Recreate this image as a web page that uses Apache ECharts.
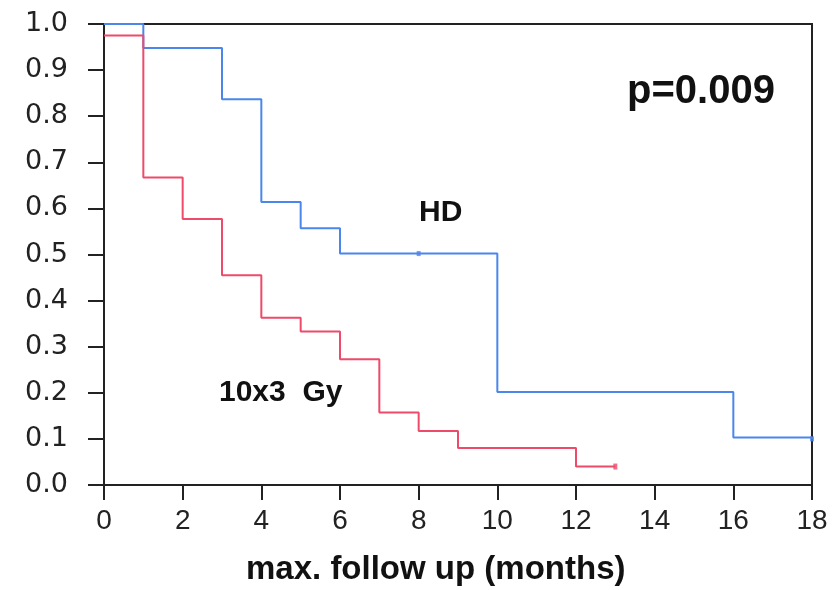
<!DOCTYPE html>
<html>
<head>
<meta charset="utf-8">
<script src="https://cdn.jsdelivr.net/npm/echarts@6/dist/echarts.min.js"></script>
<style>html,body{margin:0;padding:0;background:#fff}#c{width:834px;height:590px}</style>
</head>
<body>
<div id="c"></div>
<script>
// Kaplan-Meier step data (time in months, survival proportion)
var hdTimes = [0, 1, 3, 4, 5, 6, 10, 16, 18];
var hdValues = [1.0, 0.948, 0.837, 0.614, 0.557, 0.502, 0.202, 0.103, 0.1];
var hdCensorTimes = [8, 18];
var hdCensorValues = [0.502, 0.1];

var gyTimes = [0, 1, 2, 3, 4, 5, 6, 7, 8, 9, 12, 13];
var gyValues = [0.975, 0.667, 0.577, 0.455, 0.363, 0.333, 0.273, 0.157, 0.117, 0.08, 0.04, 0.04];
var gyCensorTimes = [13];
var gyCensorValues = [0.04];

var xTicks = [0, 2, 4, 6, 8, 10, 12, 14, 16, 18];
var yTicks = [0.0, 0.1, 0.2, 0.3, 0.4, 0.5, 0.6, 0.7, 0.8, 0.9, 1.0];

var blue = '#4a86ec';
var red = '#ee4a6a';

function zip(a, b) { return a.map(function (v, i) { return [v, b[i]]; }); }

var chart = echarts.init(document.getElementById('c'));
chart.setOption({
  animation: false,
  grid: { left: 104, right: 22, top: 24, bottom: 105, show: true, borderColor: '#222', borderWidth: 2, backgroundColor: 'transparent' },
  xAxis: {
    type: 'value', min: xTicks[0], max: xTicks[xTicks.length - 1], interval: 2,
    splitLine: { show: false },
    axisLine: { lineStyle: { color: '#222', width: 2 } },
    axisTick: { length: 15, lineStyle: { color: '#222', width: 2 } },
    axisLabel: { margin: 22, fontFamily: 'Liberation Sans, Arial', fontSize: 28, color: '#222' }
  },
  yAxis: {
    type: 'value', min: yTicks[0], max: yTicks[yTicks.length - 1], interval: 0.1,
    splitLine: { show: false },
    axisLine: { lineStyle: { color: '#222', width: 2 } },
    axisTick: { length: 16, lineStyle: { color: '#222', width: 2 } },
    axisLabel: { margin: 36, fontFamily: 'DejaVu Sans', fontSize: 27, color: '#222',
      formatter: function (v) { return v.toFixed(1); } }
  },
  series: [
    { type: 'line', step: 'end', data: zip(hdTimes, hdValues), showSymbol: false, symbol: 'none',
      lineStyle: { color: blue, width: 2 }, z: 3 },
    { type: 'line', step: 'end', data: zip(gyTimes, gyValues), showSymbol: false, symbol: 'none',
      lineStyle: { color: red, width: 2 }, z: 3 },
    { type: 'scatter', data: zip(hdCensorTimes, hdCensorValues), symbol: 'rect', symbolSize: [4, 5],
      itemStyle: { color: blue }, z: 4 },
    { type: 'scatter', data: zip(gyCensorTimes, gyCensorValues), symbol: 'rect', symbolSize: [4, 6],
      itemStyle: { color: red }, z: 4 }
  ],
  graphic: [
    { type: 'text', left: 627, top: 72, style: { text: 'p=0.009', font: 'bold 40px Liberation Sans, Arial', fill: '#111' } },
    { type: 'text', left: 419, top: 198, style: { text: 'HD', font: 'bold 30px Liberation Sans, Arial', fill: '#111' } },
    { type: 'text', left: 219, top: 378, style: { text: '10x3  Gy', font: 'bold 30px Liberation Sans, Arial', fill: '#111' } },
    { type: 'text', left: 246, top: 553, style: { text: 'max. follow up (months)', font: 'bold 33px Liberation Sans, Arial', fill: '#111' } }
  ]
});
</script>
</body>
</html>
